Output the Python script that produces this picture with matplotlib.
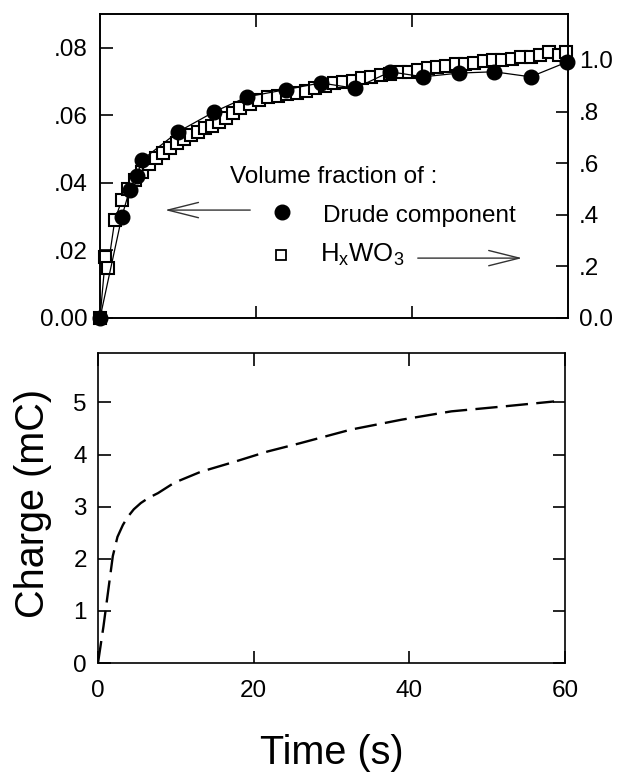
import matplotlib
matplotlib.use("Agg")
import matplotlib.pyplot as plt

plt.rcParams['font.family'] = ['Liberation Sans', 'DejaVu Sans']
plt.rcParams['lines.scale_dashes'] = False
plt.rcParams['mathtext.fontset'] = 'custom'
plt.rcParams['mathtext.rm'] = 'Liberation Sans'
plt.rcParams['mathtext.it'] = 'Liberation Sans'

# ---- data ----
drude_t = [0, 2.8, 3.8, 4.7, 5.4, 10.0, 14.6, 18.9, 23.8, 28.3, 32.7, 37.2, 41.4, 46.0, 50.5, 55.2, 59.9]
drude_v = [0, 0.030, 0.038, 0.042, 0.0468, 0.0551, 0.061, 0.0655, 0.0676, 0.0696, 0.068,
           0.0729, 0.0714, 0.0725, 0.0729, 0.0714, 0.0758]

hwo_t = [0, 0.7, 1.0, 1.9, 2.8, 3.6, 4.5, 5.4, 6.3, 7.2, 8.1, 9.0, 9.9, 10.8, 11.7,
         12.6, 13.5, 14.4, 15.3, 16.2, 17.1, 18.0, 19.2, 20.4, 21.6, 22.8, 24.0, 25.2,
         26.4, 27.6, 28.8, 30.0, 31.2, 32.4, 33.6, 34.8, 36.0, 37.2, 38.4, 39.6, 40.8,
         42.0, 43.2, 44.4, 45.6, 46.8, 48.0, 49.2, 50.4, 51.6, 52.8, 54.0, 55.2, 56.4,
         57.6, 58.8, 59.8]
hwo_v = [0, 0.236, 0.194, 0.38, 0.457, 0.50, 0.535, 0.565, 0.595, 0.62, 0.64, 0.66,
         0.68, 0.695, 0.71, 0.72, 0.735, 0.745, 0.76, 0.775, 0.795, 0.815, 0.83, 0.845,
         0.855, 0.862, 0.868, 0.872, 0.878, 0.89, 0.9, 0.91, 0.915, 0.92, 0.93, 0.935,
         0.94, 0.947, 0.953, 0.955, 0.96, 0.968, 0.972, 0.978, 0.985, 0.985, 0.99,
         0.995, 1.0, 1.0, 1.005, 1.01, 1.012, 1.02, 1.03, 1.02, 1.03]

charge_t = [0, 0.3, 0.7, 1.1, 1.5, 1.9, 2.5, 3.2, 3.8, 4.6, 5.5, 6.5, 7.7, 9.8, 13.2,
            17.5, 21.8, 26.0, 32.5, 39.0, 45.4, 51.8, 58.6]
charge_q = [0, 0.3, 0.7, 1.15, 1.6, 2.05, 2.42, 2.65, 2.8, 2.95, 3.07, 3.17, 3.26, 3.46,
            3.67, 3.86, 4.06, 4.22, 4.48, 4.67, 4.83, 4.92, 5.02]

left_ticks = [0.0, 0.02, 0.04, 0.06, 0.08]
left_labels = ['0.00', '.02', '.04', '.06', '.08']
right_ticks = [0.0, 0.2, 0.4, 0.6, 0.8, 1.0]
right_labels = ['0.0', '.2', '.4', '.6', '.8', '1.0']
x_ticks = [0, 20, 40, 60]
q_ticks = [0, 1, 2, 3, 4, 5]

W, H = 618, 773
fig = plt.figure(figsize=(W / 100, H / 100), dpi=100)

def frac(l, t, r, b):
    return [l / W, 1 - b / H, (r - l) / W, (b - t) / H]

ax1 = fig.add_axes(frac(100, 14, 568, 318))
ax1r = ax1.twinx()
ax2 = fig.add_axes(frac(98, 353, 565, 663))

TFS = 17.5
LW = 1.2
for ax in (ax1, ax1r, ax2):
    for s in ax.spines.values():
        s.set_linewidth(LW)

# top panel
ax1.set_xlim(0, 60)
ax1.set_ylim(0, 0.090)
ax1r.set_ylim(0, 1.178)
ax1r.plot(hwo_t, hwo_v, '-', color='black', lw=0.9, marker='s', ms=8,
          mfc='white', mec='black', mew=1.5, zorder=2, clip_on=False)
ax1.plot(drude_t, drude_v, '-', color='black', lw=0.9, marker='o', ms=10.5,
         mfc='black', mec='black', zorder=3, clip_on=False)
ax1.set_zorder(ax1r.get_zorder() + 1)
ax1.patch.set_visible(False)

ax1.set_yticks(left_ticks)
ax1.set_yticklabels(left_labels)
ax1.set_xticks([20, 40])
ax1.tick_params(axis='x', which='both', direction='in', length=9, width=LW,
                top=True, bottom=True, labelbottom=False)
ax1.tick_params(axis='y', direction='in', length=9, width=LW, labelsize=TFS, pad=9,
                left=True, right=False)
ax1r.set_yticks(right_ticks)
ax1r.set_yticklabels(right_labels)
ax1r.tick_params(axis='y', direction='in', length=9, width=LW, labelsize=TFS, pad=8)

# legend-like annotations
TX = 17.5
ax1.text(0.278, 0.464, 'Volume fraction of :', transform=ax1.transAxes,
         fontsize=TX, ha='left', va='center')
ax1.text(0.476, 0.336, 'Drude component', transform=ax1.transAxes,
         fontsize=TX, ha='left', va='center')
ax1.text(0.470, 0.184, r'H$_{\mathrm{x}}$WO$_{3}$', transform=ax1.transAxes,
         fontsize=TX + 1, ha='left', va='baseline')
ax1.plot([0.389], [0.349], 'o', ms=10.5, color='black', transform=ax1.transAxes)
ax1.plot([0.387], [0.207], 's', ms=7, mfc='white', mec='black', mew=1.3,
         transform=ax1.transAxes)
arrow = dict(arrowstyle='->, head_length=2.2, head_width=0.55', lw=1.0,
             color='#333333', mutation_scale=10, shrinkA=0, shrinkB=0)
ax1.annotate('', xy=(0.139, 0.355), xytext=(0.321, 0.355),
             xycoords='axes fraction', textcoords='axes fraction', arrowprops=arrow)
ax1.annotate('', xy=(0.902, 0.197), xytext=(0.679, 0.197),
             xycoords='axes fraction', textcoords='axes fraction', arrowprops=arrow)

# bottom panel
ax2.set_xlim(0, 60)
ax2.set_ylim(0, 5.95)
line, = ax2.plot(charge_t, charge_q, color='black', lw=1.7)
line.set_dashes((16, 6))
ax2.set_xticks(x_ticks)
ax2.set_yticks(q_ticks)
ax2.tick_params(axis='x', direction='in', length=9, width=LW, labelsize=TFS, pad=12,
                top=True, bottom=True)
ax2.tick_params(axis='y', direction='in', length=9, width=LW, labelsize=TFS, pad=8,
                left=True, right=True)
ax2.set_xlabel('Time (s)', fontsize=28.5, va='center')
ax2.xaxis.set_label_coords(0.5, -0.29)
ax2.set_ylabel('Charge (mC)', fontsize=28.5, va='center')
ax2.yaxis.set_label_coords(-0.139, 0.516)

fig.savefig('out.png', dpi=100)
